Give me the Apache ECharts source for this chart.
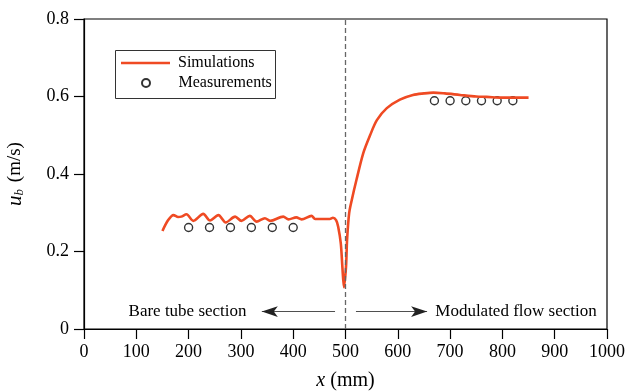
<!DOCTYPE html>
<html>
<head>
<meta charset="utf-8">
<script src="https://cdn.jsdelivr.net/npm/echarts@6/dist/echarts.min.js"></script>
<style>
  html, body { margin: 0; padding: 0; background: #fff; }
  #chart { width: 626px; height: 391px; }
</style>
</head>
<body>
<div id="chart"></div>
<script>
// simulation (x in mm, u_b in m/s)
const simX = [150, 161, 171, 180, 186, 196, 209, 228, 241, 257, 271, 289, 301, 317, 330, 346, 356, 381, 391, 406, 416, 435, 442, 470, 476, 482,
  486, 491, 494, 497, 501, 503, 507, 512, 521, 534, 547, 560, 579, 604, 629, 650, 668, 690, 719, 750, 770, 800, 830, 850];
const simY = [0.253, 0.281, 0.294, 0.289, 0.290, 0.296, 0.279, 0.297, 0.280, 0.294, 0.275, 0.290, 0.279, 0.292, 0.277, 0.286, 0.279, 0.290, 0.283, 0.288, 0.283, 0.292, 0.284, 0.284, 0.287, 0.281,
  0.264, 0.221, 0.161, 0.108, 0.161, 0.230, 0.299, 0.333, 0.385, 0.454, 0.500, 0.539, 0.570, 0.592, 0.604, 0.608, 0.610, 0.608, 0.604, 0.600, 0.599, 0.597, 0.597, 0.597];

// measurements
const measX = [200, 240, 280, 320, 360, 400, 670, 700, 730, 760, 790, 820];
const measY = [0.262, 0.262, 0.262, 0.262, 0.262, 0.262, 0.589, 0.589, 0.589, 0.589, 0.589, 0.589];

const xTicks = [0, 100, 200, 300, 400, 500, 600, 700, 800, 900, 1000];
const yTicks = [0, 0.2, 0.4, 0.6, 0.8];

const font = 'Liberation Serif';
const red = '#EF4A23';

const legendBase = {
  orient: 'vertical', padding: 0, itemWidth: 49,
  textStyle: { fontFamily: font, fontSize: 16, color: '#000', padding: [0, 0, 0, 3] }
};

var myChart = echarts.init(document.getElementById('chart'));
var option = {
  animation: false,
  textStyle: { fontFamily: font, color: '#000' },
  grid: { left: 84, right: 19, top: 19, bottom: 62, show: true, borderColor: '#000', borderWidth: 1.2,
    outerBoundsMode: 'none', containLabel: false },
  legend: [
    Object.assign({}, legendBase, { left: 121, top: 55, itemHeight: 2.6,
      data: [{ name: 'Simulations', icon: 'rect' }] }),
    Object.assign({}, legendBase, { left: 141, top: 75, itemHeight: 8,
      data: [{ name: 'Measurements', icon: 'circle' }] })
  ],
  graphic: [
    { type: 'rect', left: 113, top: 48, shape: { width: 160, height: 48 },
      style: { fill: 'none', stroke: '#333', lineWidth: 1 }, silent: true }
  ],
  xAxis: {
    type: 'value', min: xTicks[0], max: xTicks[xTicks.length - 1], interval: 100,
    name: '{i|x} (mm)', nameLocation: 'middle', nameGap: 42,
    nameTextStyle: { fontFamily: font, fontSize: 20, color: '#000',
      rich: { i: { fontFamily: font, fontSize: 20, fontStyle: 'italic' } } },
    axisLine: { lineStyle: { color: '#000', width: 1.2 } },
    axisTick: { inside: false, length: 10, lineStyle: { color: '#000', width: 1.2 } },
    axisLabel: { fontFamily: font, fontSize: 18, color: '#000', margin: 14,
      formatter: v => String(v) },
    splitLine: { show: false }
  },
  yAxis: {
    type: 'value', min: yTicks[0], max: yTicks[yTicks.length - 1], interval: 0.2,
    name: '{i|u}{s|b} (m/s)', nameLocation: 'middle', nameGap: 58, nameRotate: 90,
    nameTextStyle: { fontFamily: font, fontSize: 19, color: '#000',
      rich: {
        i: { fontFamily: font, fontSize: 21, fontStyle: 'italic' },
        s: { fontFamily: font, fontSize: 13, fontStyle: 'italic', verticalAlign: 'bottom', padding: [8, 2, 0, 0] }
      } },
    axisLine: { lineStyle: { color: '#000', width: 1.2 } },
    axisTick: { inside: false, length: 10, lineStyle: { color: '#000', width: 1.2 } },
    axisLabel: { fontFamily: font, fontSize: 18, color: '#000', margin: 15,
      formatter: v => (v === 0 ? '0' : v.toFixed(1)) },
    splitLine: { show: false }
  },
  series: [
    {
      name: 'Simulations', type: 'line',
      data: simX.map((x, i) => [x, simY[i]]),
      showSymbol: false, symbol: 'none', smooth: 0.3,
      lineStyle: { color: red, width: 2.6 },
      itemStyle: { color: red },
      markLine: {
        silent: true, symbol: 'none',
        label: { show: false },
        lineStyle: { color: '#666', type: [5, 3], width: 1.3 },
        data: [{ xAxis: 500 }]
      }
    },
    {
      name: 'Measurements', type: 'scatter',
      data: measX.map((x, i) => [x, measY[i]]),
      symbol: 'circle', symbolSize: 8,
      itemStyle: { color: '#fff', borderColor: '#000', borderWidth: 1.4 }
    },
    {
      // annotations: section arrows and labels
      type: 'line', data: [], silent: true,
      markLine: {
        silent: true, symbol: ['none', 'arrow'], symbolSize: [8, 16],
        label: { show: false },
        lineStyle: { color: '#222', type: 'solid', width: 0.8 },
        data: [
          [{ coord: [480, 0.045] }, { coord: [340, 0.045] }],
          [{ coord: [520, 0.045] }, { coord: [656, 0.045] }]
        ]
      },
      markPoint: {
        silent: true, symbol: 'circle', symbolSize: 0,
        label: { show: true, position: 'inside', fontFamily: font, fontSize: 17, color: '#000' },
        data: [
          { coord: [198, 0.045], value: 'Bare tube section', label: { formatter: 'Bare tube section' } },
          { coord: [826, 0.045], value: 'Modulated flow section', label: { formatter: 'Modulated flow section' } }
        ]
      }
    }
  ]
};
option && myChart.setOption(option);
</script>
</body>
</html>
